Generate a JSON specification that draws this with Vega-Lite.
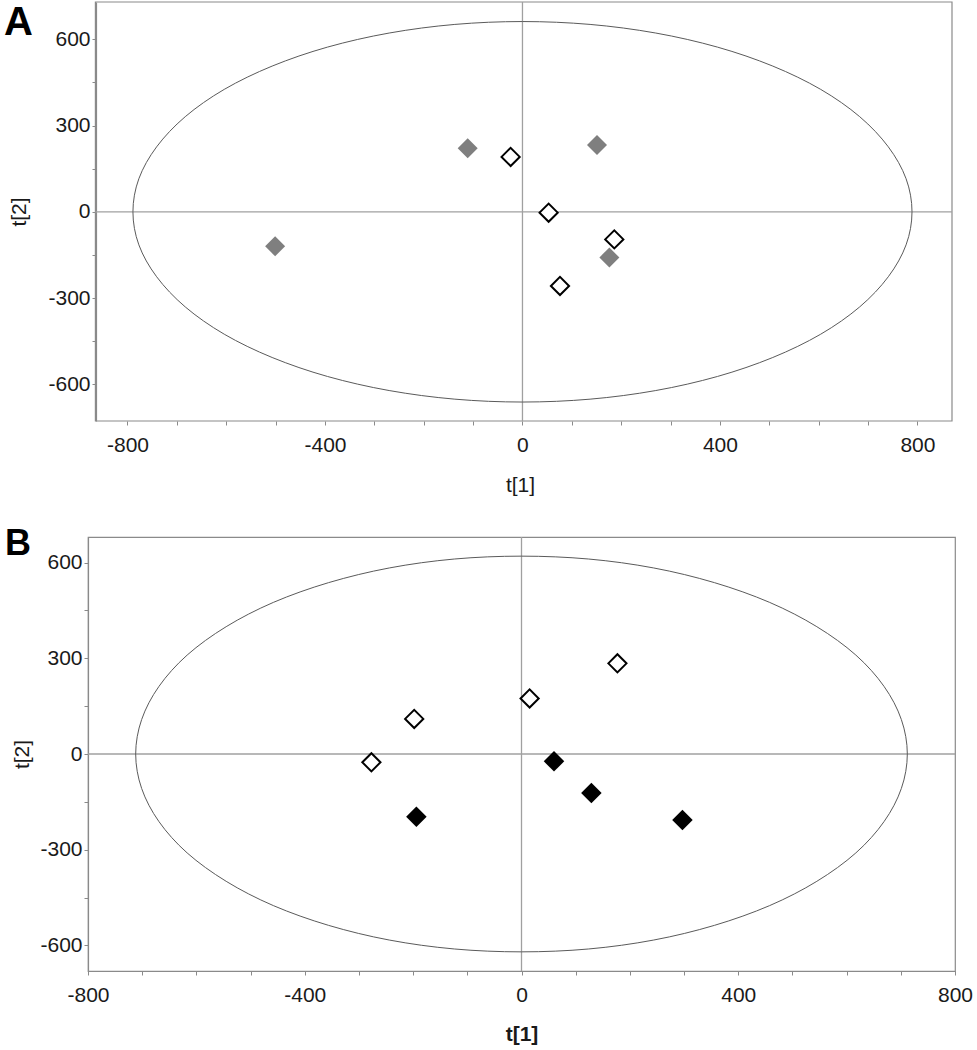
{
  "$schema": "https://vega.github.io/schema/vega-lite/v6.json",
  "padding": {"left": 4, "top": 1, "right": 0, "bottom": 0},
  "background": "white",
  "spacing": 30,
  "columns": 1,
  "config": {
    "view": {"stroke": "#8a8a8a", "strokeWidth": 1.2},
    "font": "Liberation Sans",
    "axis": {
      "grid": false,
      "domainColor": "#8a8a8a",
      "domainWidth": 1.2,
      "tickColor": "#8a8a8a",
      "tickSize": 4,
      "labelFont": "Liberation Sans",
      "labelFontSize": 21,
      "labelColor": "#1a1a1a",
      "titleFont": "Liberation Sans",
      "titleFontSize": 21,
      "titleFontWeight": "normal",
      "titleColor": "#1a1a1a",
      "labelFlush": false,
      "labelOverlap": false
    },
    "title": {"font": "Liberation Sans", "fontWeight": "bold", "color": "#000"}
  },
  "datasets": {
    "ptsA": [
      {"x": -111, "y": 221, "g": "f"},
      {"x": 151, "y": 232, "g": "f"},
      {"x": -501, "y": -120, "g": "f"},
      {"x": 176, "y": -159, "g": "f"},
      {"x": -24, "y": 191, "g": "o"},
      {"x": 53, "y": -3, "g": "o"},
      {"x": 186, "y": -96, "g": "o"},
      {"x": 76, "y": -258, "g": "o"}
    ],
    "ptsB": [
      {"x": 177, "y": 284, "g": "o"},
      {"x": 15, "y": 174, "g": "o"},
      {"x": -198, "y": 110, "g": "o"},
      {"x": -277, "y": -26, "g": "o"},
      {"x": 60, "y": -23, "g": "f"},
      {"x": 129, "y": -122, "g": "f"},
      {"x": -194, "y": -197, "g": "f"},
      {"x": 297, "y": -207, "g": "f"}
    ],
    "frameA": [{"x1": -865, "x2": 870, "y1": -728, "y2": 730}],
    "ellA": [
      {"i": 0, "x": 789, "y": 0}, {"i": 1, "x": 777, "y": 115}, {"i": 2, "x": 741, "y": 226}, {"i": 3, "x": 683, "y": 331},
      {"i": 4, "x": 604, "y": 426}, {"i": 5, "x": 507, "y": 507}, {"i": 6, "x": 395, "y": 573}, {"i": 7, "x": 270, "y": 622},
      {"i": 8, "x": 137, "y": 652}, {"i": 9, "x": 0, "y": 662}, {"i": 10, "x": -137, "y": 652}, {"i": 11, "x": -270, "y": 622},
      {"i": 12, "x": -395, "y": 573}, {"i": 13, "x": -507, "y": 507}, {"i": 14, "x": -604, "y": 426}, {"i": 15, "x": -683, "y": 331},
      {"i": 16, "x": -741, "y": 226}, {"i": 17, "x": -777, "y": 115}, {"i": 18, "x": -789, "y": 0}, {"i": 19, "x": -777, "y": -115},
      {"i": 20, "x": -741, "y": -226}, {"i": 21, "x": -683, "y": -331}, {"i": 22, "x": -604, "y": -426}, {"i": 23, "x": -507, "y": -507},
      {"i": 24, "x": -395, "y": -573}, {"i": 25, "x": -270, "y": -622}, {"i": 26, "x": -137, "y": -652}, {"i": 27, "x": 0, "y": -662},
      {"i": 28, "x": 137, "y": -652}, {"i": 29, "x": 270, "y": -622}, {"i": 30, "x": 395, "y": -573}, {"i": 31, "x": 507, "y": -507},
      {"i": 32, "x": 604, "y": -426}, {"i": 33, "x": 683, "y": -331}, {"i": 34, "x": 741, "y": -226}, {"i": 35, "x": 777, "y": -115}
    ],
    "ellB": [
      {"i": 0, "x": 712, "y": 0}, {"i": 1, "x": 701, "y": 108}, {"i": 2, "x": 669, "y": 212}, {"i": 3, "x": 617, "y": 310},
      {"i": 4, "x": 545, "y": 399}, {"i": 5, "x": 458, "y": 475}, {"i": 6, "x": 356, "y": 537}, {"i": 7, "x": 244, "y": 583},
      {"i": 8, "x": 124, "y": 611}, {"i": 9, "x": 0, "y": 620}, {"i": 10, "x": -124, "y": 611}, {"i": 11, "x": -244, "y": 583},
      {"i": 12, "x": -356, "y": 537}, {"i": 13, "x": -458, "y": 475}, {"i": 14, "x": -545, "y": 399}, {"i": 15, "x": -617, "y": 310},
      {"i": 16, "x": -669, "y": 212}, {"i": 17, "x": -701, "y": 108}, {"i": 18, "x": -712, "y": 0}, {"i": 19, "x": -701, "y": -108},
      {"i": 20, "x": -669, "y": -212}, {"i": 21, "x": -617, "y": -310}, {"i": 22, "x": -545, "y": -399}, {"i": 23, "x": -458, "y": -475},
      {"i": 24, "x": -356, "y": -537}, {"i": 25, "x": -244, "y": -583}, {"i": 26, "x": -124, "y": -611}, {"i": 27, "x": 0, "y": -620},
      {"i": 28, "x": 124, "y": -611}, {"i": 29, "x": 244, "y": -583}, {"i": 30, "x": 356, "y": -537}, {"i": 31, "x": 458, "y": -475},
      {"i": 32, "x": 545, "y": -399}, {"i": 33, "x": 617, "y": -310}, {"i": 34, "x": 669, "y": -212}, {"i": 35, "x": 701, "y": -108}
    ]
  },
  "concat": [
    {
      "width": 864,
      "height": 419,
      "view": {"stroke": null},
      "title": {"text": "A", "anchor": "start", "frame": "group", "orient": "top", "offset": -40, "baseline": "top", "fontSize": 40, "dx": -84, "dy": 2},
      "encoding": {
        "x": {"type": "quantitative", "scale": {"domain": [-880, 870], "nice": false, "zero": false},
          "axis": {"title": "t[1]", "domain": false, "values": [-800, -700, -600, -500, -400, -300, -200, -100, 0, 100, 200, 300, 400, 500, 600, 700, 800],
            "labelExpr": "datum.value % 400 === 0 ? '' + datum.value : ''", "labelPadding": 9, "titlePadding": 19}},
        "y": {"type": "quantitative", "scale": {"domain": [-728, 730], "nice": false, "zero": false},
          "axis": {"title": "t[2]", "offset": -8, "values": [-600, -450, -300, -150, 0, 150, 300, 450, 600],
            "labelExpr": "datum.value % 300 === 0 ? '' + datum.value : ''", "labelPadding": 2, "titlePadding": 18}}
      },
      "layer": [
        {"data": {"name": "frameA"}, "mark": {"type": "rect", "fill": null, "fillOpacity": 0, "stroke": "#8a8a8a", "strokeWidth": 1.2},
          "encoding": {"x": {"field": "x1"}, "x2": {"field": "x2"}, "y": {"field": "y1"}, "y2": {"field": "y2"}}},
        {"data": {"values": [{"v": 0}]}, "mark": {"type": "rule", "color": "#a0a0a0", "strokeWidth": 1.3}, "encoding": {"x": {"datum": 0, "type": "quantitative"}}},
        {"data": {"values": [{"v": 0}]}, "mark": {"type": "rule", "color": "#a0a0a0", "strokeWidth": 1.3}, "encoding": {"y": {"datum": 0, "type": "quantitative"}, "x": {"datum": -865, "type": "quantitative"}, "x2": {"datum": 870}}},
        {"data": {"name": "ellA"}, "mark": {"type": "line", "color": "#5a5a5a", "strokeWidth": 1, "interpolate": "cardinal-closed"},
          "encoding": {"x": {"field": "x"}, "y": {"field": "y"}, "order": {"field": "i", "type": "quantitative"}}},
        {"data": {"name": "ptsA"}, "transform": [{"filter": "datum.g === 'f'"}],
          "mark": {"type": "point", "shape": "diamond", "filled": true, "size": 400, "color": "#7f7f7f", "opacity": 1},
          "encoding": {"x": {"field": "x"}, "y": {"field": "y"}}},
        {"data": {"name": "ptsA"}, "transform": [{"filter": "datum.g === 'o'"}],
          "mark": {"type": "point", "shape": "diamond", "filled": false, "fill": "white", "fillOpacity": 1, "stroke": "black", "strokeWidth": 2, "size": 330, "opacity": 1},
          "encoding": {"x": {"field": "x"}, "y": {"field": "y"}}}
      ]
    },
    {
      "width": 867,
      "height": 434,
      "title": {"text": "B", "anchor": "start", "frame": "group", "orient": "top", "offset": -33, "baseline": "top", "fontSize": 36, "dx": -83, "dy": -6},
      "encoding": {
        "x": {"type": "quantitative", "scale": {"domain": [-800, 800], "nice": false, "zero": false},
          "axis": {"title": "t[1]", "titleFontWeight": "bold", "values": [-800, -700, -600, -500, -400, -300, -200, -100, 0, 100, 200, 300, 400, 500, 600, 700, 800],
            "labelExpr": "datum.value % 400 === 0 ? '' + datum.value : ''", "labelPadding": 9, "titlePadding": 18}},
        "y": {"type": "quantitative", "scale": {"domain": [-680, 680], "nice": false, "zero": false},
          "axis": {"title": "t[2]", "values": [-600, -450, -300, -150, 0, 150, 300, 450, 600],
            "labelExpr": "datum.value % 300 === 0 ? '' + datum.value : ''", "labelPadding": 2, "titlePadding": 7}}
      },
      "layer": [
        {"data": {"values": [{"v": 0}]}, "mark": {"type": "rule", "color": "#a0a0a0", "strokeWidth": 1.3}, "encoding": {"x": {"datum": 0, "type": "quantitative"}}},
        {"data": {"values": [{"v": 0}]}, "mark": {"type": "rule", "color": "#a0a0a0", "strokeWidth": 1.3}, "encoding": {"y": {"datum": 0, "type": "quantitative"}}},
        {"data": {"name": "ellB"}, "mark": {"type": "line", "color": "#5a5a5a", "strokeWidth": 1, "interpolate": "cardinal-closed"},
          "encoding": {"x": {"field": "x"}, "y": {"field": "y"}, "order": {"field": "i", "type": "quantitative"}}},
        {"data": {"name": "ptsB"}, "transform": [{"filter": "datum.g === 'f'"}],
          "mark": {"type": "point", "shape": "diamond", "filled": true, "size": 420, "color": "#000000", "opacity": 1},
          "encoding": {"x": {"field": "x"}, "y": {"field": "y"}}},
        {"data": {"name": "ptsB"}, "transform": [{"filter": "datum.g === 'o'"}],
          "mark": {"type": "point", "shape": "diamond", "filled": false, "fill": "white", "fillOpacity": 1, "stroke": "black", "strokeWidth": 2, "size": 330, "opacity": 1},
          "encoding": {"x": {"field": "x"}, "y": {"field": "y"}}}
      ]
    }
  ],
  "resolve": {"scale": {"x": "independent", "y": "independent"}}
}
